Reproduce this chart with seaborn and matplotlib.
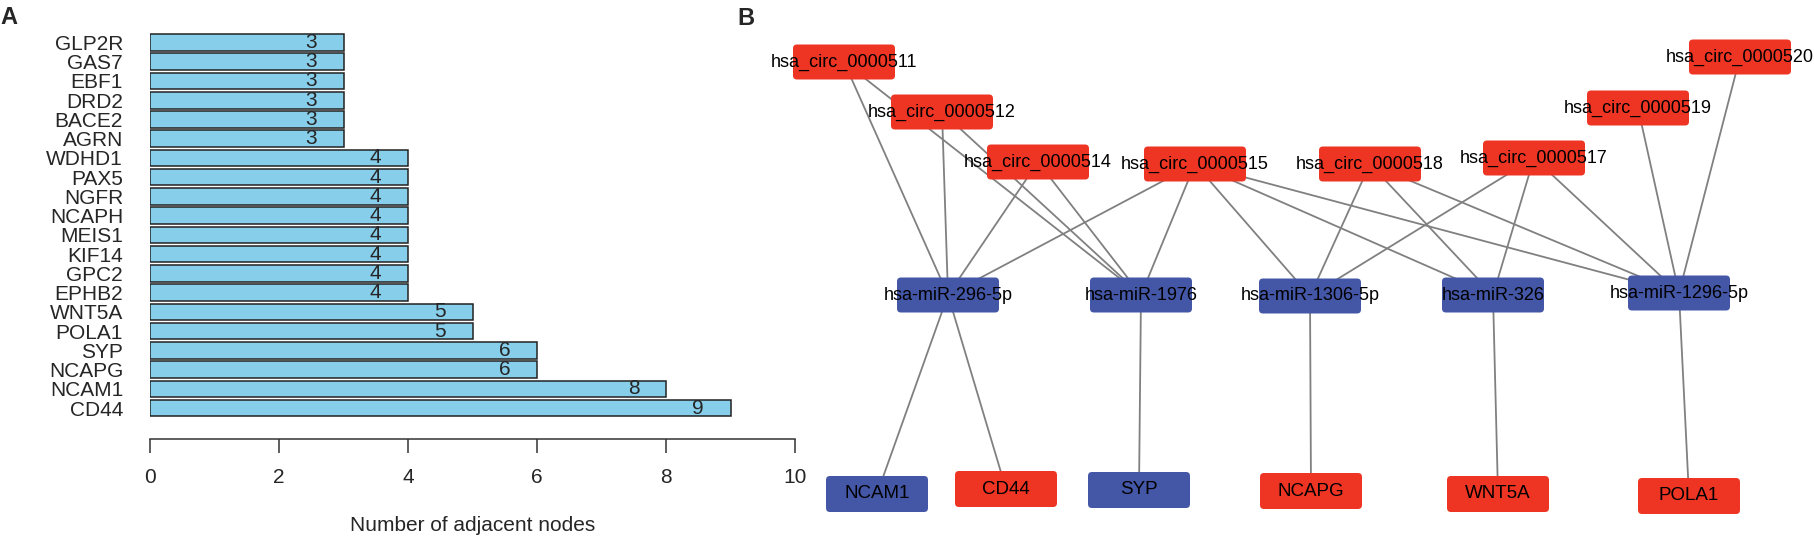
import matplotlib
matplotlib.use('Agg')
import matplotlib.pyplot as plt
from matplotlib.patches import FancyBboxPatch
from matplotlib import font_manager
import seaborn as sns
import pandas as pd

# panel A: degree of hub genes
genes = ['GLP2R', 'GAS7', 'EBF1', 'DRD2', 'BACE2', 'AGRN', 'WDHD1', 'PAX5', 'NGFR', 'NCAPH',
         'MEIS1', 'KIF14', 'GPC2', 'EPHB2', 'WNT5A', 'POLA1', 'SYP', 'NCAPG', 'NCAM1', 'CD44']
degree = [3, 3, 3, 3, 3, 3, 4, 4, 4, 4, 4, 4, 4, 4, 5, 5, 6, 6, 8, 9]

# panel B: circRNA - miRNA - mRNA network (layout positions in pixels)
circ_names = ['hsa_circ_0000511', 'hsa_circ_0000512', 'hsa_circ_0000514', 'hsa_circ_0000515',
              'hsa_circ_0000518', 'hsa_circ_0000517', 'hsa_circ_0000519', 'hsa_circ_0000520']
circ_x = [844, 942, 1038, 1195, 1370, 1534, 1638, 1740]
circ_y = [62, 112, 162, 164, 164, 158, 108, 57]

mir_names = ['hsa-miR-296-5p', 'hsa-miR-1976', 'hsa-miR-1306-5p', 'hsa-miR-326', 'hsa-miR-1296-5p']
mir_x = [948, 1141, 1310, 1493, 1679]
mir_y = [295, 295, 296, 295, 293]

gene_names = ['NCAM1', 'CD44', 'SYP', 'NCAPG', 'WNT5A', 'POLA1']
gene_x = [877, 1006, 1139, 1311, 1498, 1689]
gene_y = [494, 489, 490, 491, 494, 496]
gene_up = [False, True, False, True, True, True]

edges = [
    ('hsa_circ_0000511', 'hsa-miR-296-5p'), ('hsa_circ_0000511', 'hsa-miR-1976'),
    ('hsa_circ_0000512', 'hsa-miR-296-5p'), ('hsa_circ_0000512', 'hsa-miR-1976'),
    ('hsa_circ_0000514', 'hsa-miR-296-5p'), ('hsa_circ_0000514', 'hsa-miR-1976'),
    ('hsa_circ_0000515', 'hsa-miR-296-5p'), ('hsa_circ_0000515', 'hsa-miR-1976'),
    ('hsa_circ_0000515', 'hsa-miR-1306-5p'), ('hsa_circ_0000515', 'hsa-miR-326'),
    ('hsa_circ_0000515', 'hsa-miR-1296-5p'),
    ('hsa_circ_0000518', 'hsa-miR-1306-5p'), ('hsa_circ_0000518', 'hsa-miR-326'),
    ('hsa_circ_0000518', 'hsa-miR-1296-5p'),
    ('hsa_circ_0000517', 'hsa-miR-1306-5p'), ('hsa_circ_0000517', 'hsa-miR-326'),
    ('hsa_circ_0000517', 'hsa-miR-1296-5p'),
    ('hsa_circ_0000519', 'hsa-miR-1296-5p'), ('hsa_circ_0000520', 'hsa-miR-1296-5p'),
    ('hsa-miR-296-5p', 'NCAM1'), ('hsa-miR-296-5p', 'CD44'), ('hsa-miR-1976', 'SYP'),
    ('hsa-miR-1306-5p', 'NCAPG'), ('hsa-miR-326', 'WNT5A'), ('hsa-miR-1296-5p', 'POLA1'),
]

RED = '#EE3524'
BLUE = '#4456A6'

sns.set_style('white')
plt.rcParams['font.family'] = ['Liberation Sans', 'DejaVu Sans']

# gene boxes use a condensed face when there is one
installed = {f.name for f in font_manager.fontManager.ttflist}
if 'Liberation Sans Narrow' in installed:
    gene_font, gene_size = ['Liberation Sans Narrow', 'DejaVu Sans'], 17
else:
    gene_font, gene_size = ['Liberation Sans', 'DejaVu Sans'], 13.5

W, H = 1814, 546
fig = plt.figure(figsize=(W / 100, H / 100), dpi=100)

# A
top_px, bot_px = 32.9, 417.7
axA = fig.add_axes([150 / W, 1 - bot_px / H, (795 - 150) / W, (bot_px - top_px) / H])
df = pd.DataFrame({'gene': genes, 'degree': degree})
sns.barplot(data=df, x='degree', y='gene', orient='h', color='#87CEEB', saturation=1,
            edgecolor='#222222', linewidth=1.1, width=0.86, ax=axA)
axA.set_xlim(0, 10)
axA.set_ylim(19.5, -0.5)
axA.set_xticks(range(0, 11, 2))
for s in ['top', 'right', 'left']:
    axA.spines[s].set_visible(False)
axA.spines['bottom'].set_position(('outward', 15.3))
axA.spines['bottom'].set_color('#333333')
axA.spines['bottom'].set_linewidth(1.1)
axA.tick_params(axis='x', bottom=True, direction='out', length=10, width=1.1,
                color='#333333', pad=11, labelsize=15)
axA.tick_params(axis='y', left=False, length=0, pad=19.4, labelsize=15)
axA.set_xlabel('Number of adjacent nodes', fontsize=15, labelpad=21)
axA.set_ylabel('')
for i, v in enumerate(degree):
    axA.text(v - 0.5, i, str(v), ha='center', va='center', fontsize=15)

# B
axB = fig.add_axes([0, 0, 1, 1])
axB.set_xlim(0, W)
axB.set_ylim(H, 0)
axB.axis('off')

pos = {}
for n, x, y in zip(circ_names, circ_x, circ_y):
    pos[n] = (x, y)
for n, x, y in zip(mir_names, mir_x, mir_y):
    pos[n] = (x, y)
for n, x, y in zip(gene_names, gene_x, gene_y):
    pos[n] = (x, y)

for a, b in edges:
    axB.plot([pos[a][0], pos[b][0]], [pos[a][1], pos[b][1]], color='#808080', lw=1.3, zorder=1)


def node(x, y, label, color, h=35, family=None, size=13):
    box = FancyBboxPatch((x - 51, y - h / 2), 102, h, boxstyle='round,pad=0,rounding_size=4',
                         fc=color, ec='none', zorder=2)
    axB.add_patch(box)
    axB.text(x, y, label, ha='center', va='center', fontsize=size, color='black',
             family=family, zorder=3)


for n, x, y in zip(circ_names, circ_x, circ_y):
    node(x, y, n, RED)
for n, x, y in zip(mir_names, mir_x, mir_y):
    node(x, y, n, BLUE)
for n, x, y, up in zip(gene_names, gene_x, gene_y, gene_up):
    node(x, y, n, RED if up else BLUE, h=36, family=gene_font, size=gene_size)

fig.text(0.5 / W, 1 - 24 / H, 'A', fontsize=17, fontweight='bold', va='baseline')
fig.text(737 / W, 1 - 25 / H, 'B', fontsize=17, fontweight='bold', va='baseline')

fig.savefig('out.png', dpi=100)
